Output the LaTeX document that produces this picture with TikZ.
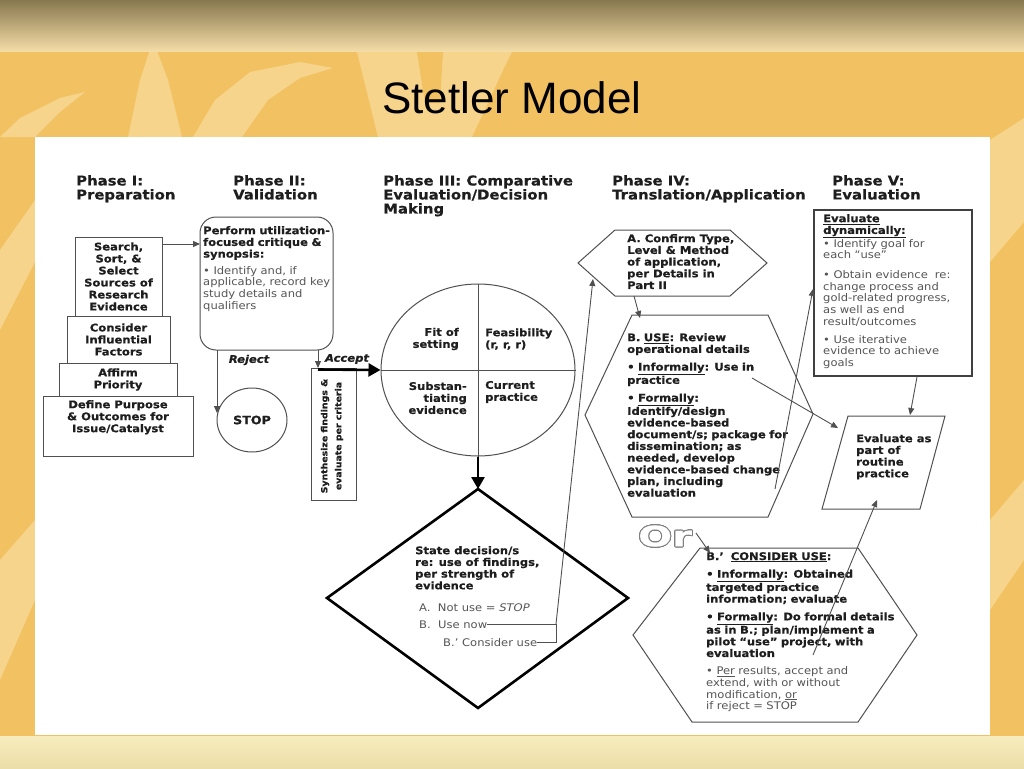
\documentclass[tikz,border=0pt]{standalone}
\usepackage{fontspec}
\setmainfont{DejaVu Sans}[FakeStretch=1.1,BoldFeatures={FakeBold=0.6},BoldItalicFeatures={FakeBold=0.6}]
\newfontfamily\titlefont{Liberation Sans}
\usetikzlibrary{arrows.meta,calc,shapes.geometric}
\definecolor{bgor}{RGB}{242,193,98}
\definecolor{leafc}{RGB}{246,212,140}
\definecolor{tdark}{RGB}{135,120,78}
\definecolor{tmid}{RGB}{200,180,120}
\definecolor{tlight}{RGB}{246,222,168}
\definecolor{botl}{RGB}{247,236,190}
\definecolor{botd}{RGB}{236,222,168}
\definecolor{lc}{RGB}{80,80,80}
\definecolor{tc}{RGB}{30,30,30}
\definecolor{gc}{RGB}{85,85,85}
\begin{document}
\begin{tikzpicture}[x=1pt,y=-1pt,
  ln/.style={draw=lc,line width=0.9pt},
  arr/.style={ln,-{Triangle[length=7pt,width=6pt]}},
  barr/.style={draw=black,line width=2.6pt,-{Triangle[length=12pt,width=13pt]}},
  shp/.style={draw=lc,line width=1pt},
  hd/.style={anchor=north west,inner sep=0pt,align=left,font=\bfseries\fontsize{13.5}{14}\selectfont,text=tc},
  bt/.style={anchor=north west,inner sep=0pt,align=left,font=\bfseries\fontsize{10.5}{11.7}\selectfont,text=tc},
  ct/.style={inner sep=0pt,align=center,font=\bfseries\fontsize{10.5}{12}\selectfont,text=tc},
  rt/.style={inner sep=0pt,align=left,font=\fontsize{10.5}{11.7}\selectfont,text=gc},
  lab/.style={inner sep=0pt,font=\bfseries\itshape\fontsize{10.5}{12}\selectfont,text=tc},
  orf/.style={inner sep=0pt,font=\bfseries\fontsize{28}{30}\selectfont},
]
\useasboundingbox (0,0) rectangle (1024,768);
% ---------- background ----------
\fill[bgor] (0,0) rectangle (1024,768);
\fill[leafc] (128,137) -- (140,80) -- (153,40) -- (168,80) -- (182,137) -- cycle;
\fill[leafc] (193,137) -- (215,100) -- (250,72) -- (300,62) -- (333,68) -- (300,78) -- (268,100) -- (242,137) -- cycle;
\fill[leafc] (357,52) -- (512,52) -- (505,66) -- (472,137) -- (378,137) -- cycle;
\fill[bgor] (417,52) -- (443,52) -- (440,103) -- (425,103) -- cycle;
\fill[leafc] (0,137) -- (20,118) -- (60,98) -- (85,92) -- (60,112) -- (35,137) -- cycle;
\fill[leafc] (0,250) -- (35,200) -- (35,262) -- (0,330) -- cycle;
\fill[leafc] (0,560) -- (35,520) -- (35,600) -- (0,680) -- cycle;
\fill[leafc] (990,140) -- (1024,118) -- (1024,222) -- (990,262) -- cycle;
\fill[leafc] (990,520) -- (1024,480) -- (1024,560) -- (990,610) -- cycle;
\shade[top color=tdark, middle color=tmid, bottom color=tlight] (0,0) rectangle (1024,52);
\shade[top color=botl, bottom color=botd] (0,736) rectangle (1024,768);
\fill[white] (35,137) rectangle (990,735);
\node[font=\titlefont\fontsize{44}{48}\selectfont, anchor=base, inner sep=0pt] (title) at (512,113) {Stetler Model};
% ---------- headings ----------
\node[hd] (h1) at (76,175) {Phase I:\\Preparation};
\node[hd] (h2) at (233,175) {Phase II:\\Validation};
\node[hd] (h3) at (383,175) {Phase III: Comparative\\Evaluation/Decision\\Making};
\node[hd] (h4) at (612,175) {Phase IV:\\Translation/Application};
\node[hd] (h5) at (832,175) {Phase V:\\Evaluation};
% ---------- Phase I ----------
\node[shp,minimum width=150pt,minimum height=60pt] (b4) at (118,426) {};
\node[ct,anchor=north] (b4t) at (118,400) {Define Purpose\\\& Outcomes for\\Issue/Catalyst};
\node[shp,fill=white,minimum width=118pt,minimum height=33pt,ct] (b3) at (118,379.5) {Affirm\\Priority};
\node[shp,fill=white,minimum width=103pt,minimum height=47pt,ct] (b2) at (118.5,339.5) {Consider\\Influential\\Factors};
\node[shp,fill=white,minimum width=87pt,minimum height=79pt,ct] (b1) at (118.5,276.5) {Search,\\Sort, \&\\Select\\Sources of\\Research\\Evidence};
% ---------- Phase II ----------
\node[shp,rounded corners=16pt,minimum width=133pt,minimum height=133pt] (p2) at (266.5,283.5) {};
\node[bt,text width=135pt] (p2t) at (203,226) {Perform utilization-\\focused critique \&\\synopsis:\\[5pt]{\mdseries\color{gc}• Identify and, if\\applicable, record key\\study details and\\qualifiers}};
\coordinate (b1e) at (162,244);
\coordinate (p2w) at (200,244);
\draw[arr] (b1e) -- (p2w);
\node[shp,ellipse,minimum width=70pt,minimum height=64pt,inner sep=0pt,font=\bfseries\fontsize{11.5}{12}\selectfont,text=tc] (stop) at (252,420) {STOP};
\coordinate (rj0) at (217,350);
\coordinate (rj1) at (217,413);
\draw[arr] (rj0) -- (rj1);
\node[lab] (rej) at (249,360) {Reject};
\coordinate (ac0) at (318,350);
\coordinate (ac1) at (318,368);
\draw[arr] (ac0) -- (ac1);
\node[lab] (acc) at (347,359) {Accept};
\node[shp,minimum width=45pt,minimum height=132pt] (syn) at (333.5,434) {};
\node[ct,rotate=90,font=\bfseries\fontsize{8.5}{14}\selectfont] (synt) at (332,436) {Synthesize findings \&\\evaluate per criteria};
% ---------- Phase III ----------
\node[shp,ellipse,minimum width=194pt,minimum height=172pt,inner sep=0pt] (circ) at (478,370) {};
\draw[shp] (circ.north) -- (circ.south);
\draw[shp] (circ.west) -- (circ.east);
\coordinate (ac2) at (318,369.5);
\draw[barr] (ac2) -- (circ.west);
\node[ct,align=right,anchor=east] (q1) at (459,339) {Fit of\\setting};
\node[ct,align=left,anchor=west] (q2) at (485,339) {Feasibility\\(r, r, r)};
\node[ct,align=right,anchor=east] (q3) at (467,398) {Substan-\\tiating\\evidence};
\node[ct,align=left,anchor=west] (q4) at (485,392) {Current\\practice};
\coordinate (dt) at (478,489);
\coordinate (dr) at (628,598);
\coordinate (db) at (478,708);
\coordinate (dl) at (327,598);
\draw[barr] (circ.south) -- (dt);
\draw[black,line width=2.6pt,line join=miter] (dt) -- (dr) -- (db) -- (dl) -- cycle;
\node[bt] (dtx) at (415,546) {State decision/s\\re: use of findings,\\per strength of\\evidence};
\node[rt,anchor=base west] (dA) at (419,611) {A.~~Not use = \textit{STOP}};
\node[rt,anchor=base west] (dB) at (419,628) {B.~~Use now};
\node[rt,anchor=base west] (dC) at (443,646) {B.’ Consider use};
\coordinate (j1) at (556,624);
\coordinate (j2) at (556,642);
\coordinate (hA) at (593,279);
\draw[ln] (dB.east |- j1) -- (j1);
\draw[ln] (dC.east |- j2) -- (j2) -- (j1);
\draw[arr] (j1) -- (hA);
% ---------- Phase IV ----------
\draw[shp] (578,263) -- (615,230) -- (730,230) -- (767,263) -- (730,296) -- (615,296) -- cycle;
\node[bt] (hAt) at (627,234) {A. Confirm Type,\\Level \& Method\\of application,\\per Details in\\Part II};
\draw[shp] (585,415) -- (632,315) -- (768,315) -- (813,414) -- (768,517) -- (632,517) -- cycle;
\node[bt,text width=185pt] (hBt) at (627,333) {B. \underline{USE}: Review\\operational details\\[6pt]• \underline{Informally}: Use in\\practice\\[6pt]• \underline{Formally}:\\Identify/design\\evidence-based\\document/s; package for\\dissemination; as\\needed, develop\\evidence-based change\\plan, including\\evaluation};
\coordinate (a0) at (634,296);
\coordinate (a1) at (640,318);
\draw[arr] (a0) -- (a1);
% Or
\coordinate (orc) at (665,536);
\foreach \ang in {0,20,...,340}
  \node[orf,text=gray] at ($(orc)+(\ang:1)$) {\scalebox{1.3}[1]{Or}};
\node[orf,text=white] (ortx) at (orc) {\scalebox{1.3}[1]{Or}};
\coordinate (or1) at (696,533);
\coordinate (or2) at (710,553);
\draw[arr] (or1) -- (or2);
\draw[shp] (633,635) -- (700,548) -- (858,548) -- (917,635) -- (858,722) -- (692,722) -- cycle;
\node[bt,text width=215pt] (hCt) at (706,552) {B.’~~\underline{CONSIDER USE}:\\[6pt]• \underline{Informally}: Obtained\\targeted practice\\information; evaluate\\[6pt]• \underline{Formally}: Do formal details\\as in B.; plan/implement a\\pilot “use” project, with\\evaluation\\[6pt]{\mdseries\color{gc}• \underline{Per} results, accept and\\extend, with or without\\modification, \underline{or}\\if reject = STOP}};
% ---------- Phase V ----------
\node[draw=black!75,line width=1.6pt,minimum width=158pt,minimum height=166pt] (p5) at (893,293) {};
\node[rt,anchor=north west,text width=150pt] (p5t) at (823,214) {{\bfseries\color{tc}\underline{Evaluate}\\\underline{dynamically:}}\\• Identify goal for\\each “use”\\[8pt]• Obtain evidence~~re:\\change process and\\gold-related progress,\\as well as end\\result/outcomes\\[6pt]• Use iterative\\evidence to achieve\\goals};
\draw[shp] (848,416) -- (945,416) -- (920,509) -- (822,509) -- cycle;
\node[bt] (prt) at (856,434) {Evaluate as\\part of\\routine\\practice};
\coordinate (c0) at (917,377);
\coordinate (c1) at (910,415);
\draw[arr] (c0) -- (c1);
\coordinate (u0) at (752,378);
\coordinate (u1) at (838,428);
\draw[arr] (u0) -- (u1);
\coordinate (f0) at (775,489);
\coordinate (f1) at (813,289);
\draw[arr] (f0) -- (f1);
\coordinate (g0) at (813,655);
\coordinate (g1) at (877,500);
\draw[arr] (g0) -- (g1);
\end{tikzpicture}
\end{document}
